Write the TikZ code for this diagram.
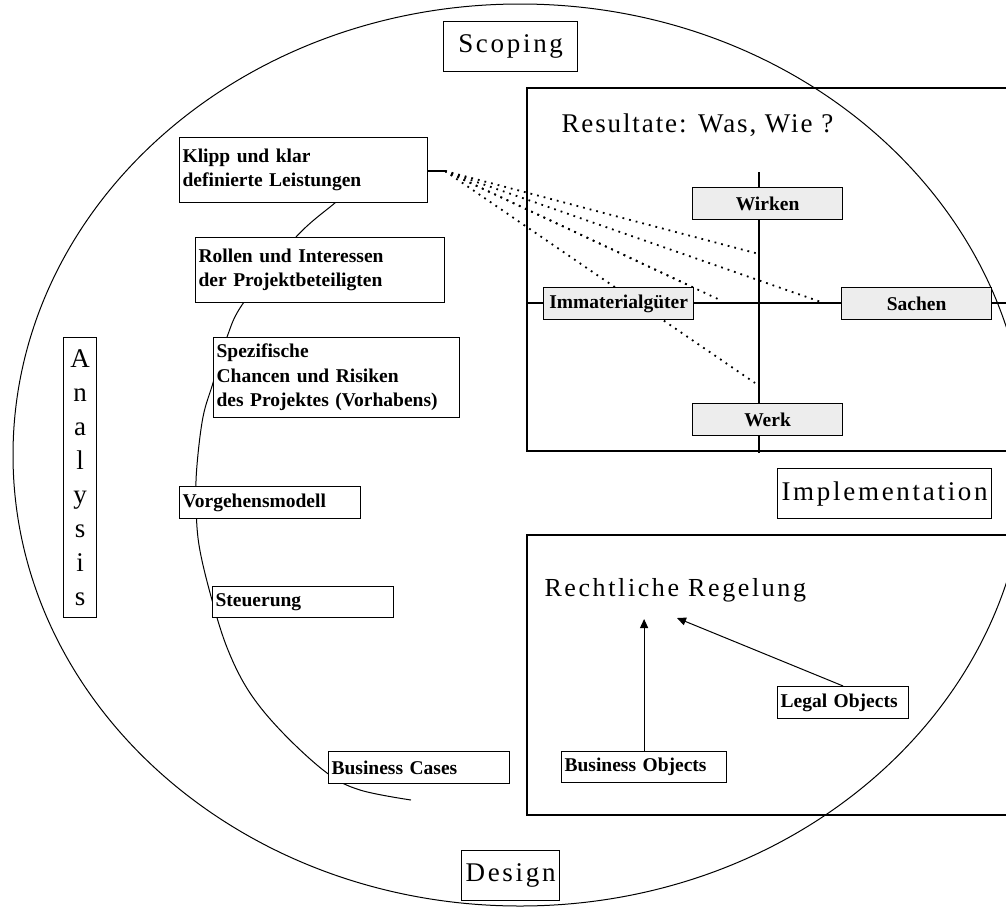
\documentclass[tikz,border=0pt]{standalone}
\usepackage{fontspec}
\setmainfont{Liberation Serif}
\newfontfamily\spacedfont[LetterSpace=10]{Liberation Serif}
\newfontfamily\resfont[LetterSpace=7]{Liberation Serif}
\usepackage{tikz}
\usetikzlibrary{positioning,arrows.meta}
\tikzset{c-label/.style={rectangle, draw=black, fill=white, line width=1.2pt, inner sep=3pt, anchor=north west, align=left, font=\fontsize{19.5}{24.5}\selectfont\bfseries},
c-quad/.style={rectangle, draw=black, fill=c_quad, line width=1.2pt, minimum width=150pt, minimum height=32pt, anchor=north west, font=\fontsize{19.5}{24}\selectfont\bfseries},
c-phase/.style={rectangle, draw=black, fill=white, line width=1.2pt, minimum height=50pt, anchor=north west, font=\spacedfont\fontsize{27}{34}\selectfont},
c-frame/.style={draw=black, line width=1.2pt},
arrow/.style={line width=1pt,->,>={Triangle[length=9pt,width=8pt]}},
fan/.style={line width=1.8pt, dash pattern=on 1.8pt off 5pt}}
\definecolor{c_quad}{rgb}{0.93, 0.93, 0.93}

\begin{document}
\begin{tikzpicture}[x=1pt, y=-1pt]
\useasboundingbox (0,0) rectangle (1006,910);
\clip (0,0) rectangle (1006,910);
\fill[white] (0,0) rectangle (1006,910);
% outer cycle and process arc
\draw[line width=1pt] (520,455) ellipse [x radius=507pt, y radius=451pt];
\draw[line width=1pt] plot[smooth, tension=0.6] coordinates {(352,187) (336,202) (296,237) (244,302) (227,337) (213,383) (203,417) (197,465) (196,500) (199,545) (212,600) (228,650) (250,693) (283,733) (327,773) (360,790) (411,800)};
% frames
\draw[c-frame] (527,88) rectangle (1015,451);
\draw[c-frame] (527,535) rectangle (1015,815);
\coordinate (origin) at (759,303);
\draw[line width=1.2pt] (759,172) -- (759,453);
\draw[line width=1.2pt] (527,303) -- (1015,303);
% dotted fan
\coordinate (fan) at (445,171);
\coordinate (f1) at (759,254);
\coordinate (f2) at (821,302);
\coordinate (f3) at (720,300);
\coordinate (f4) at (688,285);
\coordinate (f5) at (755,383);
\foreach \f in {f1,f2,f3,f4,f5}
  \draw[fan] (fan) -- (\f);

\node (scoping) [c-phase, minimum width=134pt] at (443,21) {Scoping};
\node (design) [c-phase, minimum width=98pt] at (461,850) {Design};
\node (impl) [c-phase, minimum width=214pt] at (777,468) {Implementation};
\node (analysis) [rectangle, draw=black, fill=white, line width=1.2pt, anchor=north west, minimum height=280pt, text width=27pt, inner sep=3pt, align=center, font=\fontsize{27}{34}\selectfont] at (63,337) {A\\n\\a\\l\\y\\s\\i\\s};

\node (klipp) [c-label, text width=242pt, minimum height=65pt] at (179,137) {Klipp und klar\\definierte Leistungen};
\node (rollen) [c-label, text width=243pt, minimum height=65pt] at (195,237) {Rollen und Interessen\\der Projektbeteiligten};
\node (chancen) [c-label, text width=240pt, minimum height=80pt] at (213,337) {Spezifische\\Chancen und Risiken\\des Projektes (Vorhabens)};
\node (vorgehen) [c-label, text width=175pt, minimum height=32pt] at (179,486) {Vorgehensmodell};
\node (steuer) [c-label, text width=175pt, minimum height=31pt] at (212,586) {Steuerung};
\node (bcases) [c-label, text width=175pt, minimum height=32pt] at (328,751) {Business Cases};

\node (resultate) [anchor=west, font=\resfont\fontsize{27}{32}\selectfont] at (558,125) {Resultate: Was, Wie ?};
\node (wirken) [c-quad] at (692,187) {Wirken};
\node (immat) [c-quad] at (543,287) {Immaterialgüter};
\node (sachen) [c-quad] at (841,287) {Sachen};
\node (werk) [c-quad] at (692,403) {Werk};

\node (regelung) [anchor=west, font=\spacedfont\fontsize{26}{32}\selectfont] at (541,590) {Rechtliche Regelung};
\node (lobj) [c-label, text width=125pt, minimum height=32pt] at (777,686) {Legal Objects};
\node (bobj) [c-label, text width=159pt, minimum height=31pt] at (561,751) {Business Objects};
\coordinate (btip) at (bobj.north |- 0,619);
\coordinate (ltip) at (677,618);

\draw[line width=1.2pt] (klipp.east |- fan) -- (fan);
\draw[arrow] (bobj.north) -- (btip);
\draw[arrow] (lobj.north) -- (ltip);
\end{tikzpicture}
\end{document}
